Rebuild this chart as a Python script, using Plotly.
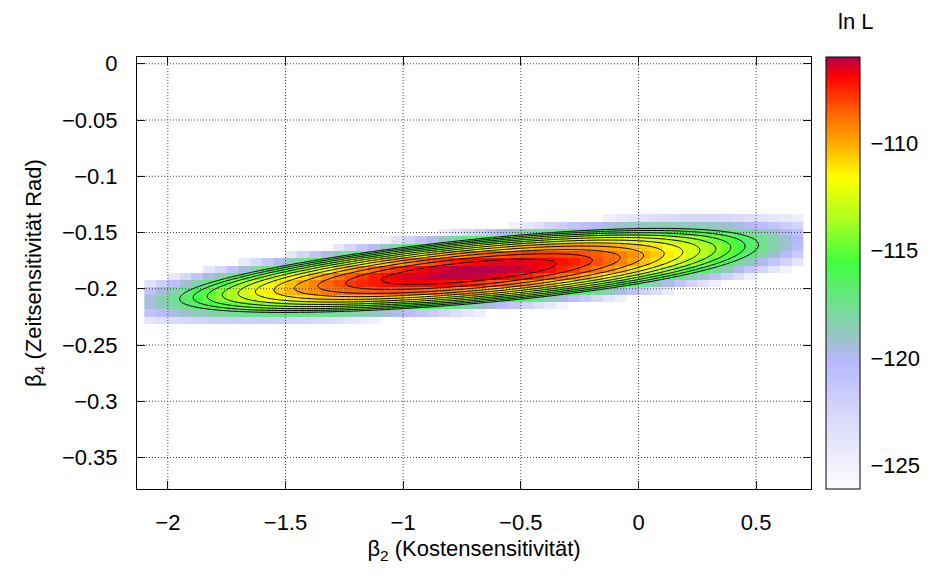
import numpy as np
import plotly.graph_objects as go

# ---- values ----
X_TICKS = [-2, -1.5, -1, -0.5, 0, 0.5]
Y_TICKS = [0, -0.05, -0.1, -0.15, -0.2, -0.25, -0.3, -0.35]
CB_TICKS = [-110, -115, -120, -125]
X_RANGE = [-2.131, 0.733]
Y_RANGE = [-0.378, 0.006]
CB_RANGE = [-126.1, -106.0]

# likelihood surface: peak, ridge, curvatures
PEAK_LNL = -106.0          # maximum ln L
PEAK_B2 = -0.72            # beta2 at maximum
PEAK_B4 = -0.185           # beta4 at maximum
RIDGE_SLOPE = 0.0195       # d beta4 / d beta2 along the ridge
CURV_B2 = 7.27             # drop of ln L per unit^2 along the ridge
CURV_B4 = 13540.0          # drop of ln L per unit^2 across the ridge
SKEW = 0.15                # narrowing of the ridge towards negative beta2
VISIBLE_MIN = -125.3       # cells below this are not drawn

# sampled grid of the map (cell centres)
B2_CELLS = [round(-2.075 + 0.05 * i, 4) for i in range(56)]
B4_CELLS = [round(-0.2995 + 0.0065 * j, 4) for j in range(31)]
CONTOUR_LEVELS = [-117, -116, -115, -114, -113, -112, -111, -110, -109, -108, -107]

AXIS_FONT = dict(family="Liberation Sans, Arial, sans-serif", size=22, color="black")


def lnL(b2, b4):
    d = b2 - PEAK_B2
    w = CURV_B4 * np.clip(1 - SKEW * d, 0.3, None)
    return PEAK_LNL - CURV_B2 * d ** 2 - w * (b4 - PEAK_B4 - RIDGE_SLOPE * d) ** 2


bx, by = np.meshgrid(np.array(B2_CELLS), np.array(B4_CELLS))
Z = lnL(bx, by)
Z = np.where(Z < VISIBLE_MIN, np.nan, Z)

fx = np.arange(-2.1, 0.7001, 0.01)
fy = np.arange(-0.26, -0.1199, 0.001)
FX, FY = np.meshgrid(fx, fy)
FZ = lnL(FX, FY)

lo, hi = CB_RANGE


def n(v):
    return (v - lo) / (hi - lo)


colorscale = [
    [0.0, "#fcfcff"],
    [n(-123.0), "#dcdcfa"],
    [n(-120.2), "#b8b8ff"],
    [n(-119.3), "#a0c0d0"],
    [n(-117.5), "#70e090"],
    [n(-115.6), "#40ff40"],
    [n(-113.5), "#b0ff20"],
    [n(-111.6), "#ffff00"],
    [n(-110.0), "#ffaa00"],
    [n(-108.5), "#ff6000"],
    [n(-106.9), "#ff0000"],
    [1.0, "#b00050"],
]

# plot area in pixels
W, H = 952, 576
ML, MR, MT, MB = 137, 141, 57, 87
PW = W - ML - MR
CB_LEFT_PX = 826
CB_THICK = 34
cb_x = (CB_LEFT_PX - ML) / PW
cb_x2 = (CB_LEFT_PX + CB_THICK - ML) / PW

fig = go.Figure()
fig.add_trace(go.Heatmap(
    x=B2_CELLS, y=B4_CELLS, z=Z,
    zmin=lo, zmax=hi, colorscale=colorscale, zsmooth=False,
    hoverongaps=False,
    colorbar=dict(
        x=cb_x, xanchor="left", xpad=0, y=0.5, yanchor="middle", ypad=0,
        len=1, lenmode="fraction", thickness=CB_THICK, thicknessmode="pixels",
        outlinewidth=1, outlinecolor="black",
        tickvals=CB_TICKS,
        ticks="outside", ticklen=6, tickcolor="rgba(0,0,0,0)",
        tickfont=AXIS_FONT,
    ),
))
fig.add_trace(go.Contour(
    x=fx, y=fy, z=FZ,
    contours=dict(start=CONTOUR_LEVELS[0], end=CONTOUR_LEVELS[-1], size=1,
                  coloring="none"),
    line=dict(color="black", width=1, smoothing=1.0),
    showscale=False, hoverinfo="skip",
))

GRID = dict(color="#444", width=1, dash="1px,2px")
shapes = []
for v in X_TICKS:
    shapes.append(dict(type="line", xref="x", yref="paper", x0=v, x1=v, y0=0, y1=1,
                       line=GRID, layer="above"))
for v in Y_TICKS:
    shapes.append(dict(type="line", xref="paper", yref="y", x0=0, x1=1, y0=v, y1=v,
                       line=GRID, layer="above"))
# inside ticks on both edges of the colour bar
for v in CB_TICKS:
    yy = n(v)
    shapes.append(dict(type="line", xref="paper", yref="paper",
                       x0=cb_x, x1=cb_x + 5 / PW, y0=yy, y1=yy,
                       line=dict(color="#222", width=1), layer="above"))
    shapes.append(dict(type="line", xref="paper", yref="paper",
                       x0=cb_x2 - 5 / PW, x1=cb_x2, y0=yy, y1=yy,
                       line=dict(color="#222", width=1), layer="above"))

fig.update_layout(
    width=W, height=H,
    margin=dict(l=ML, r=MR, t=MT, b=MB),
    paper_bgcolor="white", plot_bgcolor="white",
    font=AXIS_FONT,
    shapes=shapes,
    annotations=[dict(text="ln L", xref="paper", yref="paper",
                      x=(855 - ML) / PW, y=1 + (MT - 22) / (H - MT - MB),
                      showarrow=False, font=AXIS_FONT, xanchor="center", yanchor="middle")],
    xaxis=dict(
        range=X_RANGE, tickvals=X_TICKS, showgrid=False, zeroline=False,
        showline=True, linecolor="black", linewidth=1, mirror="ticks",
        ticks="inside", ticklen=8, tickcolor="black", tickfont=AXIS_FONT,
        ticklabelstandoff=14,
        layer="above traces",
        title=dict(text="β<sub>2</sub> (Kostensensitivität)", font=AXIS_FONT, standoff=6),
    ),
    yaxis=dict(
        range=Y_RANGE, tickvals=Y_TICKS, showgrid=False, zeroline=False,
        showline=True, linecolor="black", linewidth=1, mirror="ticks",
        ticks="inside", ticklen=8, tickcolor="black", tickfont=AXIS_FONT,
        ticklabelstandoff=14,
        layer="above traces",
        title=dict(text="β<sub>4</sub> (Zeitsensitivität Rad)", font=AXIS_FONT, standoff=14),
    ),
)

fig.write_html("out.html")
